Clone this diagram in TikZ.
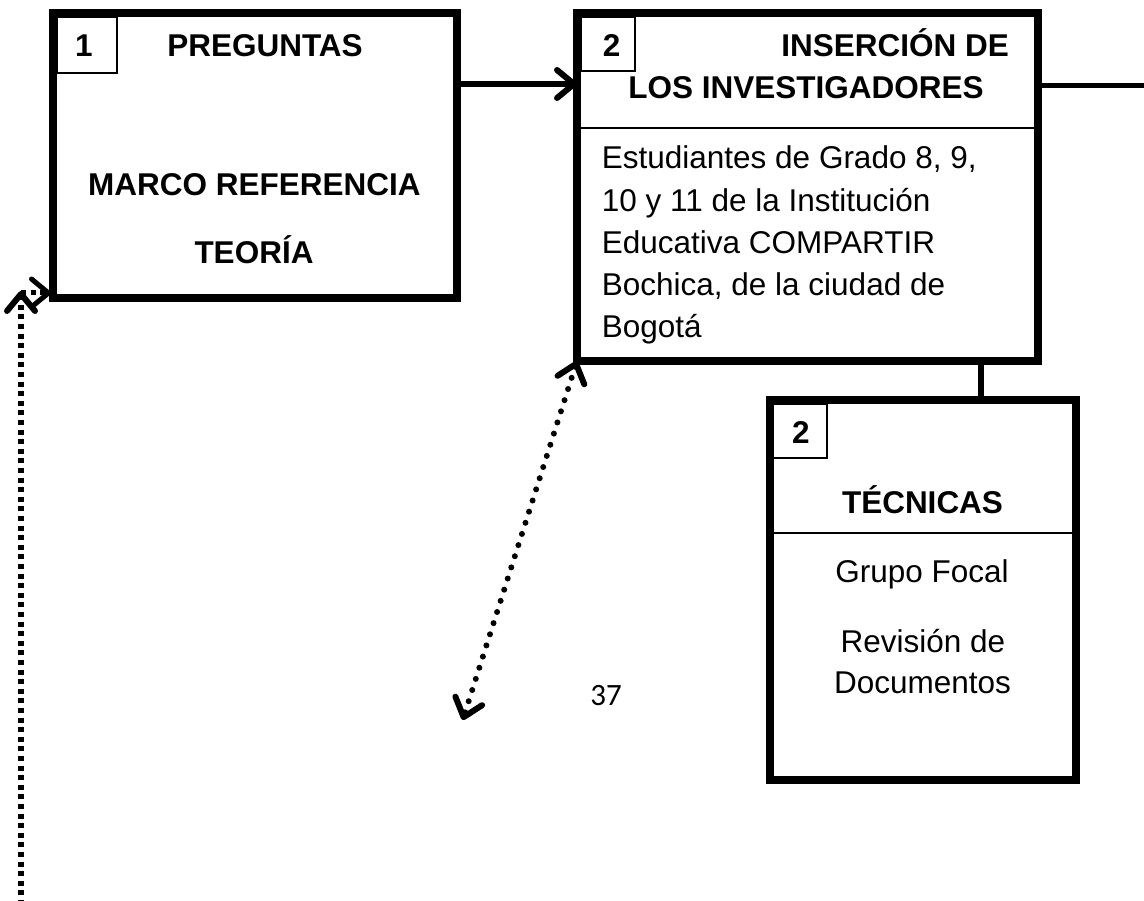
\documentclass[tikz,border=0pt]{standalone}
\usepackage{fontspec}
\setmainfont{Liberation Sans}
\newfontfamily\pagenumfont{Carlito}
\usetikzlibrary{arrows.meta,calc}
\begin{document}
\begin{tikzpicture}[x=1pt,y=-1pt,
  box/.style={draw,line width=8pt,inner sep=0pt,outer sep=0pt},
  txt/.style={inner sep=0pt,font=\fontsize{31.5}{38}\selectfont},
  hdr/.style={txt,font=\fontsize{31.5}{38}\selectfont\bfseries},
  thinln/.style={line width=1.6pt},
  barb/.tip={Straight Barb[length=17pt,width=28pt,round]},
  conn/.style={line width=6pt},
  arr/.style={conn,-barb},
  dotrnd/.style={line width=6pt,line cap=round,dash pattern=on 0pt off 11.7pt},
  dotsq/.style={line width=6pt,dash pattern=on 5pt off 4.6pt}
]
\useasboundingbox (0,0) rectangle (1144,901);

% boxes
\node[box,minimum width=404pt,minimum height=285pt] (b1) at (255,155.5) {};
\node[box,minimum width=461pt,minimum height=347.5pt] (b2) at (807.5,187.25) {};
\node[box,minimum width=306.5pt,minimum height=380pt] (b3) at (922.75,590) {};

% number boxes
\draw[thinln] ($(b1.north west)+(4,4)$) rectangle ($(b1.north west)+(64,60)$);
\draw[thinln] ($(b2.north west)+(4,3.5)$) rectangle ($(b2.north west)+(58,57.5)$);
\draw[thinln] ($(b3.north west)+(3.5,4)$) rectangle ($(b3.north west)+(57.5,58)$);

% separators
\coordinate (s2) at (0,128);
\coordinate (s3) at (0,532.7);
\draw[thinln] (b2.west |- s2) -- (b2.east |- s2);
\draw[thinln] (b3.west |- s3) -- (b3.east |- s3);

% box 1 texts
\node[hdr,anchor=base] (n1) at (84,57) {1};
\node[hdr,anchor=base] (p1) at (265,57) {PREGUNTAS};
\node[hdr,anchor=base] (m1) at (254.5,196) {MARCO REFERENCIA};
\node[hdr,anchor=base] (t1) at (254,264) {TEORÍA};

% box 2 texts
\node[hdr,anchor=base] (n2) at (611.7,57) {2};
\node[hdr,anchor=base east] (i2) at (1009,57) {INSERCIÓN DE};
\node[hdr,anchor=base] (l2) at (806,99) {LOS INVESTIGADORES};
\node[txt,anchor=base west] (e1) at (601.7,169) {Estudiantes de Grado 8, 9,};
\node[txt,anchor=base west] (e2) at (601.7,211.25) {10 y 11 de la Institución};
\node[txt,anchor=base west] (e3) at (601.7,253.5) {Educativa COMPARTIR};
\node[txt,anchor=base west] (e4) at (601.7,295.75) {Bochica, de la ciudad de};
\node[txt,anchor=base west] (e5) at (601.7,338) {Bogotá};

% box 3 texts
\node[hdr,anchor=base] (n3) at (801,443) {2};
\node[hdr,anchor=base] (tc) at (922.5,513.3) {TÉCNICAS};
\node[txt,anchor=base] (g3) at (922,582) {Grupo Focal};
\node[txt,anchor=base] (r3) at (923,652) {Revisión de};
\node[txt,anchor=base] (d3) at (922.5,693) {Documentos};

% page number
\node[inner sep=0pt,font=\pagenumfont\fontsize{31}{36}\selectfont,anchor=base] (pg) at (606,705) {37};

% connectors
\coordinate (a1) at (0,84);
\draw[arr] (b1.east |- a1) -- (b2.west |- a1);
\coordinate (ro) at (1150,85.5);
\draw[line width=5.5pt] (b2.east |- ro) -- (ro);
\coordinate (vx) at (980.7,0);
\draw[conn] (b2.south -| vx) -- (b3.north -| vx);

\coordinate (dd) at (462.7,720);
\draw[dotrnd,barb-barb] (b2.south west) -- (dd);

\coordinate (vb) at (21,905);
\coordinate (vt) at (21,291);
\draw[dotsq,-barb] (vb) -- (vt);
\coordinate (hc) at (21,293);
\draw[dotsq,line width=5pt,-barb] (hc) -- ($(b1.south west)+(-2,-5)$);
\end{tikzpicture}
\end{document}
